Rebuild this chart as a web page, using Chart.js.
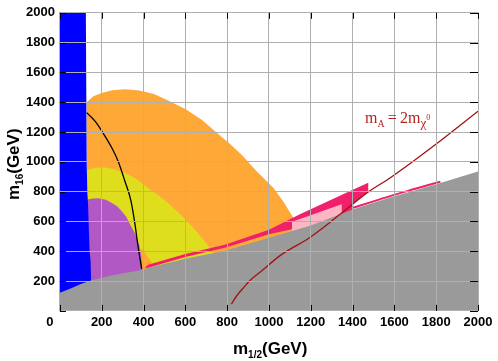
<!DOCTYPE html>
<html lang="en">
<head>
<meta charset="UTF-8">
<title>m16 vs m1/2</title>
<script src="https://cdn.jsdelivr.net/npm/chart.js"></script>
<style>
  body { margin: 0; background: #fff; }
</style>
</head>
<body>
<canvas id="myChart" width="498" height="361"></canvas>
<script>
// tick values shared by both axes
const axisTicks = [0, 200, 400, 600, 800, 1000, 1200, 1400, 1600, 1800, 2000];

// regions (x = m1/2, y = m16, GeV)
const blueX = [0, 124, 126, 128, 131, 135, 138, 142, 147, 149, 149, 0];
const blueY = [2000, 2000, 1500, 1000, 800, 700, 560, 400, 330, 200, 0, 0];

const orangeX = [128, 128, 160, 200, 250, 310, 380, 450, 520, 600, 680, 742, 810, 869, 941, 1021, 1070, 1116, 1135, 1135];
const orangeY = [0, 1400, 1440, 1462, 1480, 1487, 1478, 1455, 1410, 1355, 1280, 1205, 1125, 1048, 937, 826, 730, 626, 590, 0];

const yellowX = [128, 128, 170, 210, 260, 310, 359, 400, 440, 478, 520, 574, 606, 650, 690, 718, 740, 740, 455, 392, 300];
const yellowY = [0, 945, 960, 963, 950, 925, 892, 848, 805, 770, 720, 650, 604, 540, 470, 420, 380, 330, 295, 420, 0];

const purpleX = [128, 128, 150, 183, 220, 247, 275, 295, 318, 335, 352, 367, 380, 388, 394, 396];
const purpleY = [0, 745, 752, 755, 745, 726, 700, 670, 630, 582, 540, 493, 440, 382, 293, 0];

const pinkX = [405, 422, 600, 789, 1000, 1148, 1388, 1475, 1475, 1403, 1403, 1148, 1000, 789, 600, 422];
const pinkY = [290, 309, 382, 444, 545, 648, 804, 860, 804, 722, 600, 560, 515, 424, 362, 290];

const lightPinkX = [1110, 1148, 1348, 1350, 1110];
const lightPinkY = [598, 616, 715, 560, 500];

const pinkEdgeX = [1403, 1500, 1579, 1700, 1820];
const pinkEdgeY = [692, 735, 770, 819, 867];

const grayX = [0, 60, 100, 148, 250, 392, 422, 600, 789, 1000, 1196, 1403, 1579, 1800, 2000, 2000, 0];
const grayY = [122, 155, 180, 204, 240, 275, 290, 350, 404, 490, 571, 682, 760, 850, 935, 0, 0];

const blackX = [128, 170, 207, 250, 279, 311, 340, 359, 372, 391];
const blackY = [1330, 1270, 1192, 1090, 1003, 870, 737, 582, 449, 282];

const redX = [820, 845, 875, 909, 960, 1053, 1196, 1340, 1467, 1579, 1800, 2000];
const redY = [45, 100, 150, 204, 262, 371, 493, 648, 790, 892, 1120, 1340];

function pts(xs, ys) {
  return xs.map((x, i) => ({ x: x, y: ys[i] }));
}

function area(xs, ys, color, order) {
  return {
    data: pts(xs, ys),
    backgroundColor: color,
    borderColor: color,
    borderWidth: 0,
    pointRadius: 0,
    fill: 'shape',
    tension: 0,
    order: order
  };
}

function curve(xs, ys, color, width, order) {
  return {
    data: pts(xs, ys),
    borderColor: color,
    borderWidth: width,
    pointRadius: 0,
    fill: false,
    cubicInterpolationMode: 'monotone',
    order: order
  };
}

// draws a run of text pieces (for sub/superscripts)
function drawParts(ctx, parts, x, y) {
  parts.forEach(p => {
    ctx.font = p[1];
    ctx.fillText(p[0], x, y + p[2]);
    x += ctx.measureText(p[0]).width;
  });
}

const sans = 'Liberation Sans';
const serif = 'Liberation Serif';
const gridColor = '#b0b0b0';

const overlay = {
  id: 'overlay',
  afterDraw(chart) {
    const { ctx, chartArea: a, scales: { x, y } } = chart;
    ctx.save();
    // inward tick marks
    ctx.strokeStyle = '#000';
    ctx.lineWidth = 1;
    ctx.beginPath();
    axisTicks.forEach(v => {
      const px = Math.round(x.getPixelForValue(v)) + 0.5;
      ctx.moveTo(px, a.top); ctx.lineTo(px, a.top + 6);
      ctx.moveTo(px, a.bottom); ctx.lineTo(px, a.bottom - 6);
      const py = Math.round(y.getPixelForValue(v)) + 0.5;
      ctx.moveTo(a.left, py); ctx.lineTo(a.left + 6, py);
      ctx.moveTo(a.right, py); ctx.lineTo(a.right - 8, py);
    });
    ctx.stroke();

    ctx.fillStyle = '#000';
    ctx.textAlign = 'center';
    ctx.textBaseline = 'middle';
    ctx.font = 'bold 13px ' + sans;
    ctx.fillText('0', a.left - 10, a.bottom + 12);

    ctx.textAlign = 'left';
    ctx.textBaseline = 'alphabetic';
    drawParts(ctx, [
      ['m', 'bold 17px ' + sans, 0],
      ['1/2', 'bold 10px ' + sans, 4],
      ['(GeV)', 'bold 17px ' + sans, 0]
    ], 233, 354);

    ctx.save();
    ctx.translate(19, 200);
    ctx.rotate(-Math.PI / 2);
    drawParts(ctx, [
      ['m', 'bold 17px ' + sans, 0],
      ['16', 'bold 10px ' + sans, 4],
      ['(GeV)', 'bold 17px ' + sans, 0]
    ], 0, 0);
    ctx.restore();

    ctx.fillStyle = '#b22222';
    drawParts(ctx, [
      ['m', '16px ' + serif, 0],
      ['A', '10px ' + serif, 4],
      ['\u2009=\u20092m', '16px ' + serif, 0],
      ['χ', '13px ' + serif, 4],
      ['0', '8px ' + serif, -3]
    ], 365, 123);
    ctx.restore();
  }
};

new Chart(document.getElementById('myChart'), {
  type: 'line',
  data: {
    datasets: [
      curve(redX, redY, '#a31010', 1.3, 1),
      curve(blackX, blackY, '#000000', 1.3, 2),
      area(grayX, grayY, '#9a9a9a', 3),
      curve(pinkEdgeX, pinkEdgeY, '#f0206a', 2, 4),
      area(blueX, blueY, '#0000ff', 5),
      area(lightPinkX, lightPinkY, '#ffb6c4', 6),
      area(pinkX, pinkY, '#f0206a', 7),
      area(purpleX, purpleY, '#b158c4', 8),
      area(yellowX, yellowY, '#dede1e', 9),
      area(orangeX, orangeY, '#fea838', 10)
    ]
  },
  options: {
    responsive: false,
    animation: false,
    layout: { padding: { left: 21, right: 20, top: 4, bottom: 26.5 } },
    plugins: { legend: { display: false }, tooltip: { enabled: false } },
    scales: {
      x: {
        type: 'linear',
        min: 0,
        max: 2000,
        grid: { color: gridColor, drawTicks: false, z: 1 },
        border: { color: gridColor, z: 1 },
        ticks: {
          stepSize: 200,
          padding: 4,
          color: '#000',
          font: { family: sans, size: 13, weight: 'bold' },
          callback: v => (v === 0 ? '' : v)
        }
      },
      y: {
        type: 'linear',
        min: 0,
        max: 2000,
        grid: { color: gridColor, drawTicks: false, z: 1 },
        border: { color: gridColor, z: 1 },
        ticks: {
          stepSize: 200,
          padding: 5,
          color: '#000',
          font: { family: sans, size: 13, weight: 'bold' },
          callback: v => (v === 0 ? '' : v)
        }
      }
    }
  },
  plugins: [overlay]
});
</script>
</body>
</html>
